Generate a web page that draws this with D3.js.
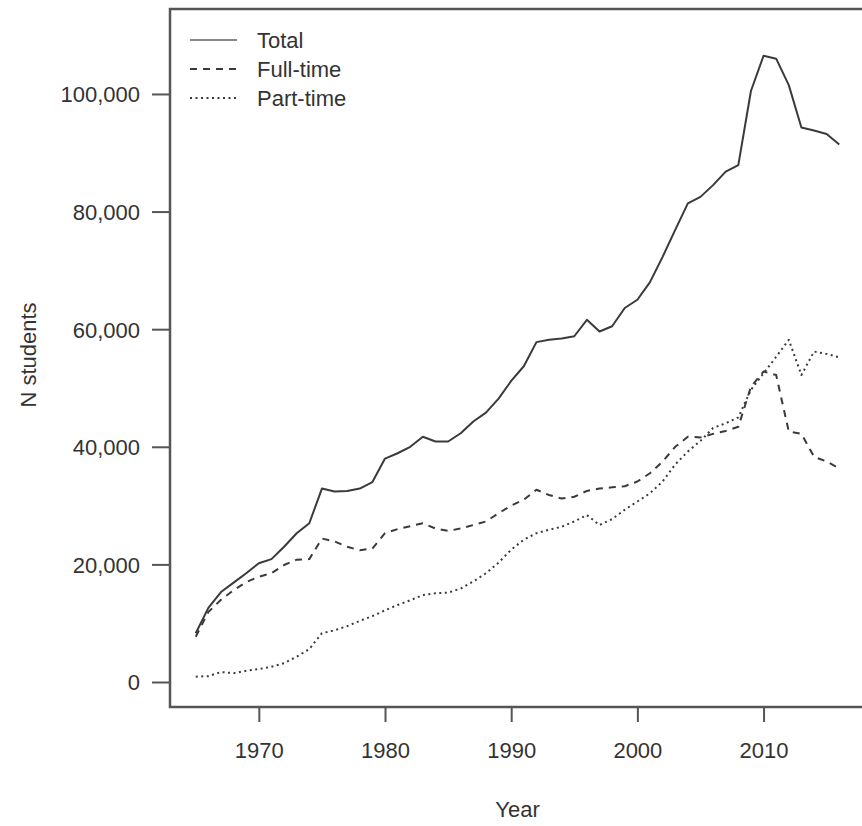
<!DOCTYPE html>
<html lang="en">
<head>
<meta charset="UTF-8">
<title>N students by year</title>
<script src="https://d3js.org/d3.v7.min.js"></script>
<style>
    body { margin: 0; background: #fff; }
    svg { display: block; font-family: "Liberation Sans", Arial, sans-serif; }
    .tick text { font-size: 22px; fill: #333; }
    .tick line { stroke: #555; stroke-width: 2; }
    .axis-title { font-size: 22px; fill: #333; text-anchor: middle; }
    .legend-text { font-size: 22px; fill: #333; }
</style>
</head>
<body>
<svg width="862" height="826"></svg>
<script>
const years = [1965, 1966, 1967, 1968, 1969, 1970, 1971, 1972, 1973, 1974,
               1975, 1976, 1977, 1978, 1979, 1980, 1981, 1982, 1983, 1984,
               1985, 1986, 1987, 1988, 1989, 1990, 1991, 1992, 1993, 1994,
               1995, 1996, 1997, 1998, 1999, 2000, 2001, 2002, 2003, 2004,
               2005, 2006, 2007, 2008, 2009, 2010, 2011, 2012, 2013, 2014,
               2015, 2016];

const total = [8300, 12600, 15300, 16900, 18500, 20200, 20900, 23000, 25300, 27000,
               32900, 32400, 32500, 32900, 34000, 38000, 38900, 40000, 41700, 40900,
               40900, 42300, 44300, 45800, 48200, 51200, 53700, 57800, 58200, 58400,
               58800, 61600, 59600, 60500, 63600, 65000, 68000, 72300, 76900, 81400,
               82500, 84500, 86800, 87900, 100500, 106500, 106000, 101500, 94300, 93800,
               93200, 91400];

const fullTime = [7700, 11900, 14000, 15600, 17000, 17900, 18500, 19900, 20800, 20900,
                  24400, 23900, 23000, 22400, 22700, 25300, 26000, 26500, 27000, 26100,
                  25700, 26100, 26700, 27300, 28700, 30000, 31000, 32700, 31800, 31200,
                  31500, 32500, 32900, 33100, 33300, 34100, 35500, 37500, 40000, 41700,
                  41600, 42200, 42700, 43400, 50200, 52800, 52200, 42600, 42200, 38300,
                  37500, 36300];

const partTime = [900, 1000, 1700, 1500, 1900, 2200, 2600, 3200, 4300, 5600,
                  8300, 8800, 9500, 10400, 11200, 12200, 13100, 13900, 14800, 15100,
                  15200, 15900, 17100, 18500, 20300, 22500, 24200, 25300, 25900, 26400,
                  27300, 28400, 26700, 27700, 29300, 30700, 32100, 34100, 37000, 39200,
                  41000, 43200, 44000, 45000, 49700, 52500, 55300, 58200, 52200, 56200,
                  55800, 55200];

const xTicks = [1970, 1980, 1990, 2000, 2010];
const yTicks = [0, 20000, 40000, 60000, 80000, 100000];

const seriesNames = ["Total", "Full-time", "Part-time"];
const seriesValues = [total, fullTime, partTime];
const dashes = [null, "7,6", "2,3.5"];

const svg = d3.select("svg");
const box = { left: 170, top: 9, right: 865, bottom: 707 };

const x = d3.scaleLinear().domain([1962.96, 2018.04]).range([box.left, box.right]);
const y = d3.scaleLinear().domain([-4250, 114450]).range([box.bottom, box.top]);

// axes (R style: ticks outside the box, no domain line)
const xAxis = svg.append("g")
    .attr("transform", `translate(0,${box.bottom})`)
    .call(d3.axisBottom(x).tickValues(xTicks).tickFormat(d3.format("d"))
        .tickSize(15).tickSizeOuter(0).tickPadding(20));
xAxis.select(".domain").remove();

const yAxis = svg.append("g")
    .attr("transform", `translate(${box.left},0)`)
    .call(d3.axisLeft(y).tickValues(yTicks).tickFormat(d3.format(","))
        .tickSize(18).tickSizeOuter(0).tickPadding(12));
yAxis.select(".domain").remove();
yAxis.selectAll(".tick text").attr("dy", "0.36em");

// box
svg.append("rect")
    .attr("x", box.left).attr("y", box.top)
    .attr("width", box.right - box.left).attr("height", box.bottom - box.top)
    .attr("fill", "none").attr("stroke", "#555").attr("stroke-width", 2.5);

// lines
const line = d3.line()
    .x((d, i) => x(years[i]))
    .y(d => y(d));

seriesValues.forEach((vals, k) => {
    svg.append("path")
        .datum(vals)
        .attr("d", line)
        .attr("fill", "none")
        .attr("stroke", "#3a3a3a")
        .attr("stroke-width", 2)
        .attr("stroke-linejoin", "round")
        .attr("stroke-dasharray", dashes[k]);
});

// axis titles
svg.append("text").attr("class", "axis-title")
    .attr("x", (box.left + box.right) / 2).attr("y", 817)
    .text("Year");

svg.append("text").attr("class", "axis-title")
    .attr("transform", "translate(36,355) rotate(-90)")
    .text("N students");

// legend
const legend = svg.append("g").attr("transform", "translate(190,40)");
seriesNames.forEach((name, k) => {
    const ly = k * 29;
    legend.append("line")
        .attr("x1", 0).attr("x2", 47).attr("y1", ly).attr("y2", ly)
        .attr("stroke", k === 0 ? "#888" : "#3a3a3a")
        .attr("stroke-width", 2)
        .attr("stroke-dasharray", dashes[k]);
    legend.append("text").attr("class", "legend-text")
        .attr("x", 67).attr("y", ly).attr("dy", "0.36em")
        .text(name);
});
</script>
</body>
</html>
